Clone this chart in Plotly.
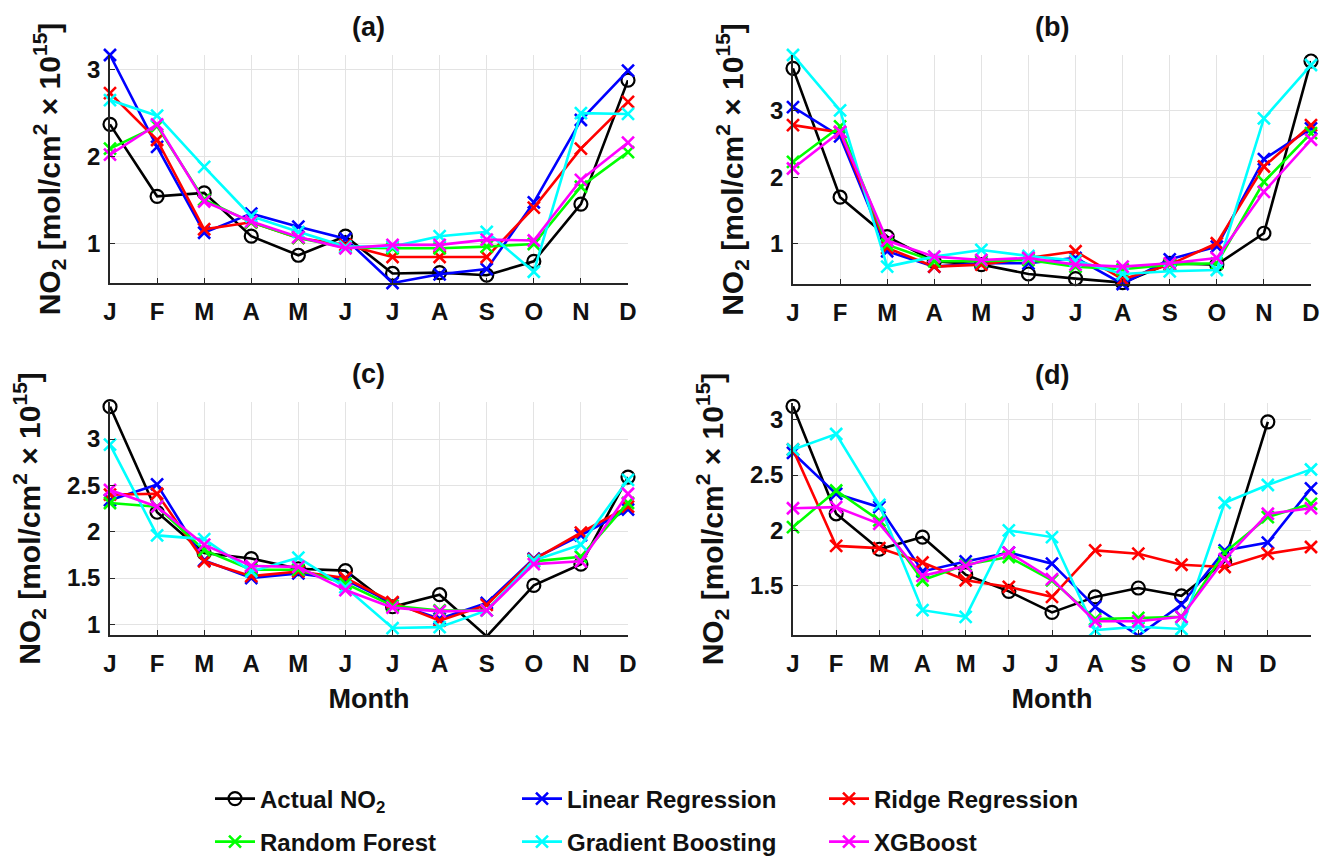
import plotly.graph_objects as go

W, H = 1323, 862

months = ["J", "F", "M", "A", "M", "J", "J", "A", "S", "O", "N", "D"]
series_names = ["Actual NO<sub>2</sub>", "Linear Regression", "Ridge Regression",
                "Random Forest", "Gradient Boosting", "XGBoost"]

# Panel (a)
actual_a = [2.37, 1.54, 1.58, 1.08, 0.86, 1.08, 0.65, 0.66, 0.63, 0.79, 1.45, 2.88]
lin_a = [3.17, 2.11, 1.12, 1.34, 1.19, 1.05, 0.54, 0.64, 0.70, 1.47, 2.42, 2.99]
ridge_a = [2.73, 2.19, 1.16, 1.24, 1.06, 0.98, 0.84, 0.84, 0.84, 1.41, 2.09, 2.63]
rf_a = [2.09, 2.35, 1.50, 1.24, 1.06, 0.95, 0.94, 0.94, 0.96, 0.99, 1.65, 2.05]
gb_a = [2.65, 2.47, 1.88, 1.31, 1.13, 0.96, 0.96, 1.08, 1.13, 0.67, 2.50, 2.49]
xgb_a = [2.02, 2.37, 1.48, 1.25, 1.07, 0.94, 0.98, 0.98, 1.04, 1.03, 1.73, 2.16]

# Panel (b)
actual_b = [3.63, 1.70, 1.11, 0.74, 0.69, 0.55, 0.48, 0.42, 0.71, 0.69, 1.16, 3.74]
lin_b = [3.05, 2.61, 0.89, 0.66, 0.71, 0.71, 0.79, 0.40, 0.77, 0.96, 2.27, 2.73]
ridge_b = [2.78, 2.67, 0.94, 0.66, 0.69, 0.79, 0.89, 0.47, 0.69, 1.01, 2.16, 2.78]
rf_b = [2.23, 2.76, 0.99, 0.74, 0.74, 0.76, 0.66, 0.62, 0.69, 0.71, 1.93, 2.66]
gb_b = [3.83, 3.00, 0.66, 0.81, 0.91, 0.82, 0.75, 0.55, 0.59, 0.61, 2.88, 3.68]
xgb_b = [2.13, 2.68, 1.05, 0.81, 0.76, 0.79, 0.69, 0.66, 0.71, 0.79, 1.78, 2.56]

# Panel (c)
actual_c = [3.35, 2.21, 1.77, 1.71, 1.60, 1.58, 1.19, 1.32, 0.87, 1.42, 1.65, 2.59]
lin_c = [2.34, 2.51, 1.69, 1.50, 1.55, 1.48, 1.23, 1.06, 1.23, 1.71, 1.96, 2.24]
ridge_c = [2.40, 2.41, 1.68, 1.52, 1.57, 1.50, 1.24, 1.04, 1.21, 1.70, 1.99, 2.27]
rf_c = [2.31, 2.27, 1.80, 1.59, 1.59, 1.44, 1.20, 1.15, 1.15, 1.68, 1.73, 2.31]
gb_c = [2.94, 1.96, 1.92, 1.57, 1.72, 1.40, 0.96, 0.97, 1.15, 1.69, 1.86, 2.56]
xgb_c = [2.45, 2.27, 1.86, 1.63, 1.62, 1.37, 1.18, 1.14, 1.15, 1.65, 1.68, 2.41]

# Panel (d) (model series have 13 points, actual has 12)
actual_d = [3.12, 2.15, 1.83, 1.94, 1.60, 1.45, 1.26, 1.40, 1.48, 1.41, 1.72, 2.98]
lin_d = [2.70, 2.33, 2.21, 1.63, 1.72, 1.80, 1.70, 1.31, 1.05, 1.33, 1.82, 1.89, 2.38]
ridge_d = [2.73, 1.86, 1.84, 1.71, 1.55, 1.49, 1.40, 1.82, 1.79, 1.69, 1.67, 1.79, 1.85]
rf_d = [2.03, 2.36, 2.09, 1.55, 1.69, 1.76, 1.55, 1.20, 1.21, 1.22, 1.80, 2.12, 2.24]
gb_d = [2.73, 2.87, 2.23, 1.28, 1.22, 2.00, 1.94, 1.10, 1.13, 1.11, 2.25, 2.41, 2.55]
xgb_d = [2.20, 2.21, 2.06, 1.59, 1.68, 1.80, 1.56, 1.18, 1.18, 1.22, 1.74, 2.15, 2.20]

panel_data = [
    [actual_a, lin_a, ridge_a, rf_a, gb_a, xgb_a],
    [actual_b, lin_b, ridge_b, rf_b, gb_b, xgb_b],
    [actual_c, lin_c, ridge_c, rf_c, gb_c, xgb_c],
    [actual_d, lin_d, ridge_d, rf_d, gb_d, xgb_d],
]
panel_titles = ["(a)", "(b)", "(c)", "(d)"]
panel_yranges = [[0.54, 3.17], [0.40, 3.83], [0.885, 3.40], [1.056, 3.15]]
panel_yticks = [[1, 2, 3], [1, 2, 3], [1, 1.5, 2, 2.5, 3], [1.5, 2, 2.5, 3]]
panel_xmax = [12, 12, 12, 13]

colors = ["#000000", "#0000ff", "#ff0000", "#00ff00", "#00ffff", "#ff00ff"]

# pixel boxes (left, right, top, bottom)
boxes = [(110, 628, 55, 283), (793, 1311, 55, 284), (110, 628, 402, 635), (793, 1311, 403, 635)]

FONT = "Arial, Liberation Sans, sans-serif"
TXT = "#111111"

fig = go.Figure()
layout = dict(
    width=W, height=H,
    margin=dict(l=0, r=0, t=0, b=0, autoexpand=False),
    paper_bgcolor="white", plot_bgcolor="white",
    showlegend=True,
    font=dict(family=FONT, size=22, color=TXT, weight="bold"),
)

annotations = []
for p in range(4):
    l, r, t, b = boxes[p]
    xa = "xaxis" if p == 0 else f"xaxis{p+1}"
    ya = "yaxis" if p == 0 else f"yaxis{p+1}"
    xref = "x" if p == 0 else f"x{p+1}"
    yref = "y" if p == 0 else f"y{p+1}"
    n = panel_xmax[p]
    xpos = list(range(1, n + 1))
    for s in range(6):
        vals = panel_data[p][s]
        is_actual = s == 0
        leg = "legend" if s < 3 else "legend2"
        fig.add_trace(go.Scatter(
            x=xpos[:len(vals)], y=vals,
            mode="lines+markers",
            name=series_names[s],
            line=dict(color=colors[s], width=2.6),
            marker=dict(
                symbol="circle-open" if is_actual else "x-thin-open",
                size=13 if is_actual else 12,
                color=colors[s],
                line=dict(color=colors[s], width=2.2 if is_actual else 2.6),
            ),
            cliponaxis=False,
            xaxis=xref, yaxis=yref,
            showlegend=(p == 0),
            legend=leg,
        ))
    layout[xa] = dict(
        domain=[l / W, r / W], anchor=yref,
        range=[1, n], tickmode="array", tickvals=list(range(1, 13)), ticktext=months,
        showgrid=True, gridcolor="#e3e3e3", gridwidth=1,
        showline=True, linecolor="#262626", linewidth=1.5,
        ticks="inside", ticklen=5, tickcolor="#262626", tickwidth=1.2,
        tickfont=dict(size=24, family=FONT, color=TXT, weight="bold"),
        ticklabelstandoff=6,
        zeroline=False, fixedrange=True, automargin=False,
        title=dict(text="Month" if p >= 2 else "",
                   font=dict(size=27, family=FONT, color=TXT, weight="bold"),
                   standoff=14),
    )
    layout[ya] = dict(
        domain=[1 - b / H, 1 - t / H], anchor=xref,
        range=panel_yranges[p], tickmode="array", tickvals=panel_yticks[p],
        ticktext=[f"{v:g}" for v in panel_yticks[p]],
        showgrid=True, gridcolor="#e3e3e3", gridwidth=1,
        showline=True, linecolor="#262626", linewidth=1.5,
        ticks="inside", ticklen=5, tickcolor="#262626", tickwidth=1.2,
        tickfont=dict(size=24, family=FONT, color=TXT, weight="bold"),
        ticklabelstandoff=3,
        zeroline=False, fixedrange=True, automargin=False,
        title=dict(text="NO<sub>2</sub> [mol/cm<sup>2</sup> × 10<sup>15</sup>]",
                   font=dict(size=30, family=FONT, color=TXT, weight="bold"),
                   standoff=18),
    )
    annotations.append(dict(
        text=panel_titles[p], xref="paper", yref="paper",
        x=((l + r) / 2) / W, y=1 - (t - 28) / H,
        xanchor="center", yanchor="middle", showarrow=False,
        font=dict(size=27, family=FONT, color=TXT, weight="bold"),
    ))

legend_common = dict(
    orientation="h", xanchor="left", yanchor="middle",
    entrywidth=252, entrywidthmode="pixels",
    font=dict(size=24, family=FONT, color=TXT, weight="bold"),
    bgcolor="rgba(0,0,0,0)", itemwidth=40,
)
layout["legend"] = dict(x=210 / W, y=1 - 799 / H, **legend_common)
layout["legend2"] = dict(x=210 / W, y=1 - 842 / H, **legend_common)
layout["annotations"] = annotations

fig.update_layout(**layout)
fig.write_html("out.html")
